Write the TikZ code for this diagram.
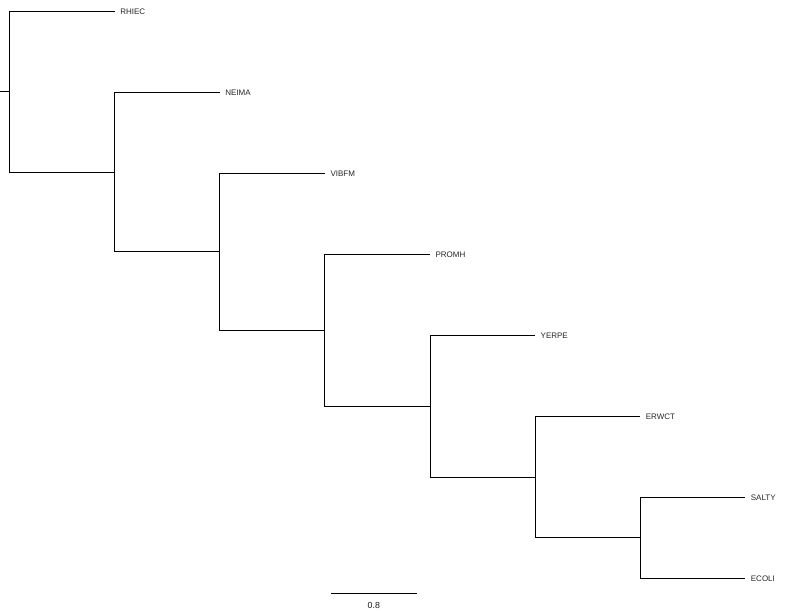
\documentclass[tikz,border=0pt]{standalone}
\usepackage{fontspec}
\setmainfont{Liberation Sans}
\begin{document}
\begin{tikzpicture}[x=1pt,y=-1pt,
  branch/.style={line width=0.8pt,black},
  leaf/.style={anchor=west,inner sep=0pt,font=\fontsize{8}{9}\selectfont,text=black!85},
  scalelbl/.style={inner sep=0pt,font=\fontsize{8.8}{10}\selectfont,text=black!90}]
\useasboundingbox (0,0) rectangle (786,612);
% internal nodes
\coordinate (r0) at (0,91.7);
\coordinate (n1) at (9.5,91.7);
\coordinate (n2) at (114.6,172);
\coordinate (n3) at (219.7,251.8);
\coordinate (n4) at (324.8,330.2);
\coordinate (n5) at (429.9,406.2);
\coordinate (n6) at (535,477);
\coordinate (n7) at (640.1,537.8);
% tips
\coordinate (t1) at (114.6,11.3);
\coordinate (t2) at (219.7,92.3);
\coordinate (t3) at (324.8,173.3);
\coordinate (t4) at (429.9,254.3);
\coordinate (t5) at (535,335.3);
\coordinate (t6) at (640.1,416.3);
\coordinate (t7) at (745.2,497.3);
\coordinate (t8) at (745.2,578.3);
% labels
\node[leaf] (rhiec) at ([xshift=5.5]t1) {RHIEC};
\node[leaf] (neima) at ([xshift=5.5]t2) {NEIMA};
\node[leaf] (vibfm) at ([xshift=5.5]t3) {VIBFM};
\node[leaf] (promh) at ([xshift=5.5]t4) {PROMH};
\node[leaf] (yerpe) at ([xshift=5.5]t5) {YERPE};
\node[leaf] (erwct) at ([xshift=5.5]t6) {ERWCT};
\node[leaf] (salty) at ([xshift=5.5]t7) {SALTY};
\node[leaf] (ecoli) at ([xshift=5.5]t8) {ECOLI};
% branches
\draw[branch] (r0) -- (n1);
\draw[branch] (n1) |- (t1);
\draw[branch] (n1) |- (n2);
\draw[branch] (n2) |- (t2);
\draw[branch] (n2) |- (n3);
\draw[branch] (n3) |- (t3);
\draw[branch] (n3) |- (n4);
\draw[branch] (n4) |- (t4);
\draw[branch] (n4) |- (n5);
\draw[branch] (n5) |- (t5);
\draw[branch] (n5) |- (n6);
\draw[branch] (n6) |- (t6);
\draw[branch] (n6) |- (n7);
\draw[branch] (n7) |- (t7);
\draw[branch] (n7) |- (t8);
% scale bar
\coordinate (sb1) at (331,593);
\coordinate (sb2) at (416.5,593);
\draw[branch] (sb1) -- (sb2);
\node[scalelbl] (sblabel) at (373.8,605) {0.8};
\end{tikzpicture}
\end{document}
